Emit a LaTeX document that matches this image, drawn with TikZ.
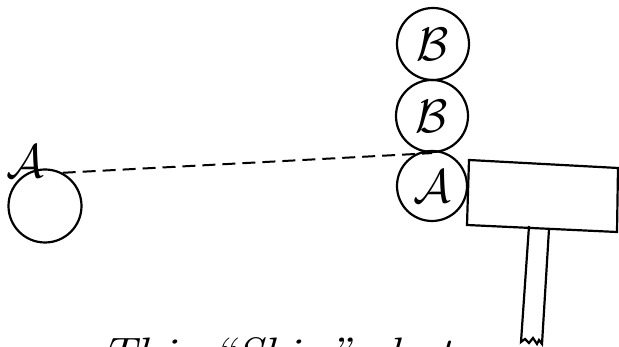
\documentclass[tikz,border=0pt]{standalone}
\usepackage{amsmath}
\begin{document}
\begin{tikzpicture}[x=1pt,y=1pt,line width=2.2pt,
  ball/.style={draw,circle,inner sep=0pt,minimum size=70pt},
  lbl/.style={inner sep=0pt,scale=4.7},
  path/.style={line width=2pt,dash pattern=on 13pt off 7pt}]
\useasboundingbox (0,0) rectangle (619,347);
\clip (0,0) rectangle (619,347);
% left ball
\node[ball,minimum size=73pt] (a1) at (45,141) {};
\node[lbl] (la1) at (25,186) {$\mathcal{A}$};
% column of balls
\node[ball,minimum size=72pt] (b1) at (433,303) {};
\node[ball,minimum size=72pt] (b2) at (432,231) {};
\node[ball,minimum size=70pt] (a2) at (432,161) {};
\node[lbl] at (b1) {$\mathcal{B}$};
\node[lbl] at (b2) {$\mathcal{B}$};
\node[lbl] at (a2) {$\mathcal{A}$};
% dashed path of ball A
\draw[path] (a1.62) -- (b2.south);
% mallet head
\coordinate (h1) at (469,187);
\coordinate (h2) at (618,179);
\coordinate (h3) at (617,115);
\coordinate (h4) at (467,122);
\draw (h1) -- (h2) -- (h3) -- (h4) -- cycle;
% handle
\coordinate (s1) at (529,121);
\coordinate (s2) at (549,118);
\coordinate (e1) at (521,5);
\coordinate (e2) at (542,3);
\draw (s1) -- (e1) -- (525,8) -- (529,4) -- (533,9) -- (537,3) -- (539,7) -- (e2) -- (s2);
% caption (cut off at the bottom)
\node[anchor=base west,inner sep=0pt,font=\fontsize{44}{44}\selectfont\itshape,xscale=1.12] (cap) at (100,-22) {This ``Skin'' shot};
\end{tikzpicture}
\end{document}
